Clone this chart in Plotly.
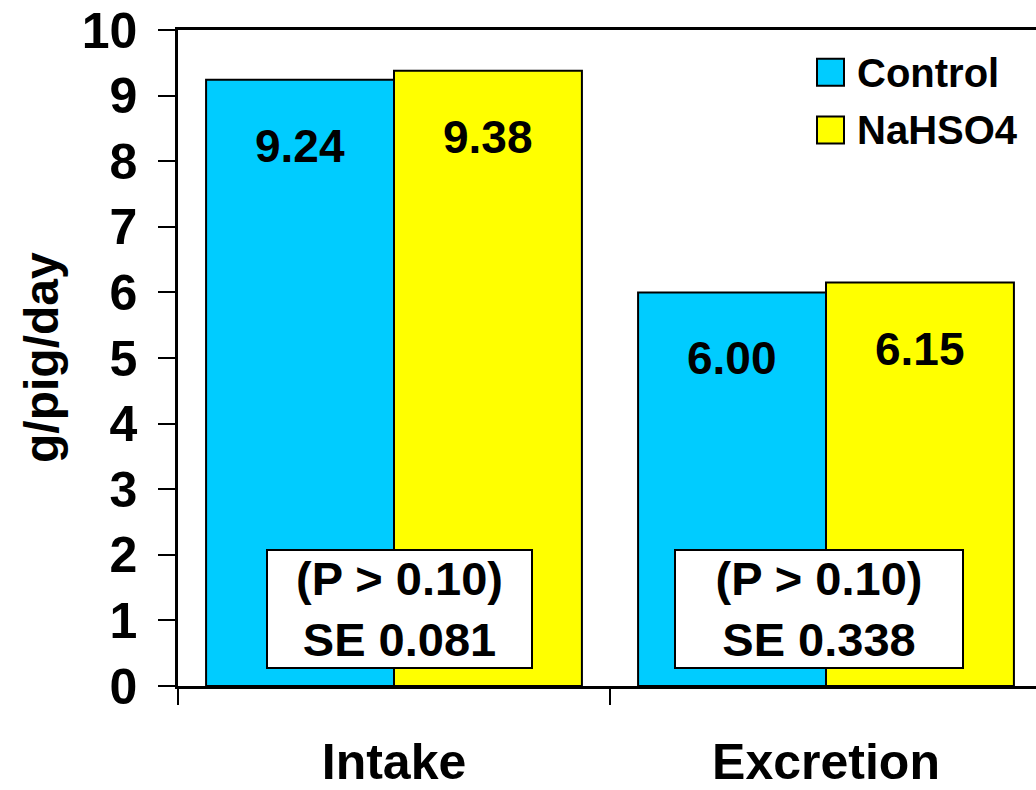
import plotly.graph_objects as go

# Nitrogen balance: intake vs excretion (g/pig/day)
categories = ["Intake", "Excretion"]
series_names = ["Control", "NaHSO4"]
control_values = [9.24, 6.00]
nahso4_values = [9.38, 6.15]
series_colors = ["#00CCFF", "#FFFF00"]
y_ticks = [0, 1, 2, 3, 4, 5, 6, 7, 8, 9, 10]
stat_labels = ["(P &gt; 0.10)<br>SE 0.081", "(P &gt; 0.10)<br>SE 0.338"]

FONT = "Liberation Sans, Arial, Helvetica, sans-serif"

# pixel geometry of the plotting area
W, H = 1036, 790
L, T, B = 178, 30, 101
plot_w = W - L
plot_h = H - T - B
cat_px = 432  # width of one category band in px


def px_x(px):
    return (px - L) / plot_w


def px_y(py):
    return (H - B - py) / plot_h


fig = go.Figure()
for name, vals, col in zip(series_names, [control_values, nahso4_values], series_colors):
    fig.add_trace(go.Bar(
        x=categories, y=vals, name=name,
        marker=dict(color=col, line=dict(color="black", width=2)),
        showlegend=False, hoverinfo="skip",
    ))

annotations = []
# value labels inside the top of each bar
offsets = [-0.2175, 0.2175]
for off, vals in zip(offsets, [control_values, nahso4_values]):
    for i, v in enumerate(vals):
        annotations.append(dict(
            x=i + off, y=v, xref="x", yref="y", text=f"<b>{v:.2f}</b>",
            showarrow=False, yshift=-66, yanchor="middle",
            font=dict(family=FONT, size=46, color="black"),
        ))

# significance boxes
box_specs = [(0, 5, 263), (1, -7, 286)]
for (ci, xs, bw), txt in zip(box_specs, stat_labels):
    annotations.append(dict(
        x=ci, y=1.17, xref="x", yref="y", xshift=xs,
        text=f"<b>{txt}</b>", showarrow=False,
        font=dict(family=FONT, size=47, color="black"),
        bgcolor="white", bordercolor="black", borderwidth=2, borderpad=0,
        width=bw, height=116, align="center", valign="middle",
    ))

# y-axis title
annotations.append(dict(
    x=0, y=0.5, xref="paper", yref="paper", xshift=-137,
    text="<b>g/pig/day</b>", textangle=-90, showarrow=False,
    xanchor="center", yanchor="middle",
    font=dict(family=FONT, size=48, color="black"),
))

# legend drawn as squares plus labels
shapes = []
legend_rows = [(59, 86, 73), (117, 144, 130)]
for (y0, y1, yc), name, col in zip(legend_rows, series_names, series_colors):
    shapes.append(dict(
        type="rect", xref="paper", yref="paper",
        x0=px_x(817), x1=px_x(844), y0=px_y(y1), y1=px_y(y0),
        fillcolor=col, line=dict(color="black", width=2),
    ))
    annotations.append(dict(
        x=px_x(855), y=px_y(yc), xref="paper", yref="paper",
        text=f"<b>{name}</b>", showarrow=False, xanchor="left", yanchor="middle",
        font=dict(family=FONT, size=40, color="black"),
    ))

fig.update_layout(
    width=W, height=H,
    margin=dict(l=L, r=0, t=T, b=B, pad=0),
    paper_bgcolor="white", plot_bgcolor="white",
    barmode="group", bargap=0.13, bargroupgap=0,
    annotations=annotations, shapes=shapes,
    showlegend=False,
)
fig.update_xaxes(
    type="category", range=[-0.5, 1.5 - 6 / cat_px],
    showline=True, linecolor="black", linewidth=2.5, mirror=True,
    ticks="outside", tickson="boundaries", ticklen=16, tickwidth=2, tickcolor="black",
    showgrid=False, zeroline=False,
    tickfont=dict(family=FONT, size=50, color="black", weight="bold"),
    ticklabelstandoff=30,
)
fig.update_yaxes(
    range=[0, 10], tickvals=y_ticks,
    showline=True, linecolor="black", linewidth=2.5,
    ticks="outside", ticklen=17, tickwidth=2, tickcolor="black",
    showgrid=False, zeroline=False,
    tickfont=dict(family=FONT, size=50, color="black", weight="bold"),
    ticklabelstandoff=11,
)

fig.write_html("out.html")
